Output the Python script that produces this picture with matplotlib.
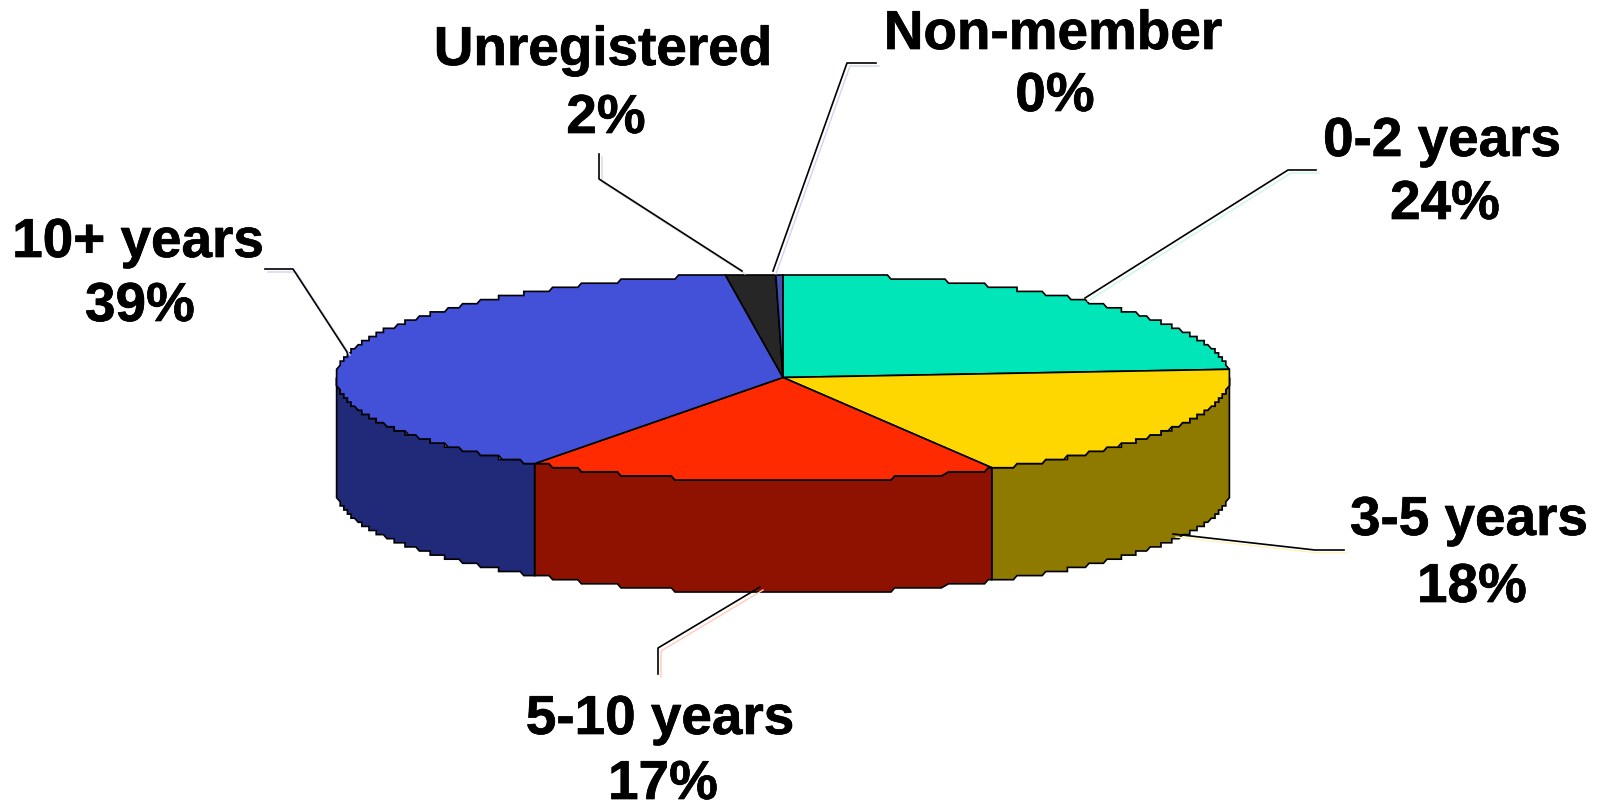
import numpy as np
import matplotlib
matplotlib.use("Agg")
import matplotlib.pyplot as plt
import matplotlib.patheffects as pe
from matplotlib.path import Path

labels = ["0-2 years", "3-5 years", "5-10 years", "10+ years", "Unregistered", "Non-member"]
values = [24, 18.2, 17.15, 38.55, 1.8, 0.3]
pct_text = ["24%", "18%", "17%", "39%", "2%", "0%"]
top_colors = ["#00e6b8", "#ffd700", "#ff2a00", "#4350d8", "#262626", "#4350b0"]
side_colors = ["#007f66", "#8f7a00", "#8f1200", "#212a78", "#141414", "#212a78"]

# label positions, in pixels of the 1600x804 picture (text baselines)
name_x = [1442, 1469, 660, 138, 603, 1053]
pct_x = [1445, 1472, 663, 140, 606, 1055]
name_y = [157, 536, 735, 258, 66, 50]
pct_y = [220, 603, 800, 322, 134, 112]

# leader lines: three corners each, pixels
leader_x = [[1316, 1288, 1085], [1344, 1315, 1173], [658, 658, 760],
            [265, 293, 347], [599, 599, 742], [876, 847, 773]]
leader_y = [[171, 171, 299], [551, 551, 535], [675, 649, 588],
            [270, 270, 353], [155, 180, 272], [64, 64, 272]]
shadow_colors = ["#ccf5ea", "#fff2bb", "#ffcbbd", "#d0d3f3", "#d8d8d8", "#d0d3f3"]

W, H = 1600, 804
cx, cy, rx, ry = 783, 378.5, 447, 103.5
depth = 112 / ry
step_x, step_y = 3.6 / rx, 4.1 / ry  # the outline of the original is stepped


def rim(a1, a2):
    # a1, a2 are matplotlib angles in degrees; stepped outline between them
    t = np.radians(np.linspace(a1, a2, max(int(abs(a2 - a1) * 2), 2)))
    x = np.round(np.cos(t) / step_x) * step_x
    y = np.round(np.sin(t) / step_y) * step_y
    keep = np.r_[True, (np.diff(x) != 0) | (np.diff(y) != 0)]
    return x[keep], y[keep]


fig = plt.figure(figsize=(W / 100, H / 100), dpi=100)
ax = fig.add_axes([0, 0, 1, 1])
wedges, _ = ax.pie(values, startangle=90, counterclock=False, radius=1,
                   colors=top_colors, wedgeprops={"edgecolor": "black", "linewidth": 1.2})
ax.set_aspect("auto")
ax.set_xlim(-cx / rx, (W - cx) / rx)
ax.set_ylim((cy - H) / ry, cy / ry)

for w, side in zip(wedges, side_colors):
    x, y = rim(w.theta1, w.theta2)
    w._path = Path(np.vstack([np.c_[x, y], [0, 0], [x[0], y[0]]]), closed=True)
    w.set_zorder(3)
    # side wall, only the part that faces the viewer (clockwise pie: angles run negative)
    a1, a2 = max(w.theta1, -180), min(w.theta2, 0)
    if a2 > a1:
        x, y = rim(a1, a2)
        ax.fill(np.r_[x, x[::-1]], np.r_[y, y[::-1] - depth], facecolor=side,
                edgecolor="black", linewidth=1.2, zorder=2)

ov = fig.add_axes([0, 0, 1, 1])
ov.set_xlim(0, W)
ov.set_ylim(H, 0)
ov.axis("off")

for lx, ly, sc in zip(leader_x, leader_y, shadow_colors):
    ov.plot(np.array(lx) + 3, np.array(ly) + 3, color=sc, lw=1, zorder=1)
    ov.plot(lx, ly, color="black", lw=1.2, zorder=2)

stroke = [pe.withStroke(linewidth=0.5, foreground="black")]
for i in range(len(labels)):
    for s, x, y in ((labels[i], name_x[i], name_y[i]), (pct_text[i], pct_x[i], pct_y[i])):
        ov.text(x, y, s, ha="center", va="baseline", family="Liberation Sans",
                weight="bold", fontsize=39.5, color="black", zorder=3, path_effects=stroke)

fig.savefig("out.png", dpi=100)
